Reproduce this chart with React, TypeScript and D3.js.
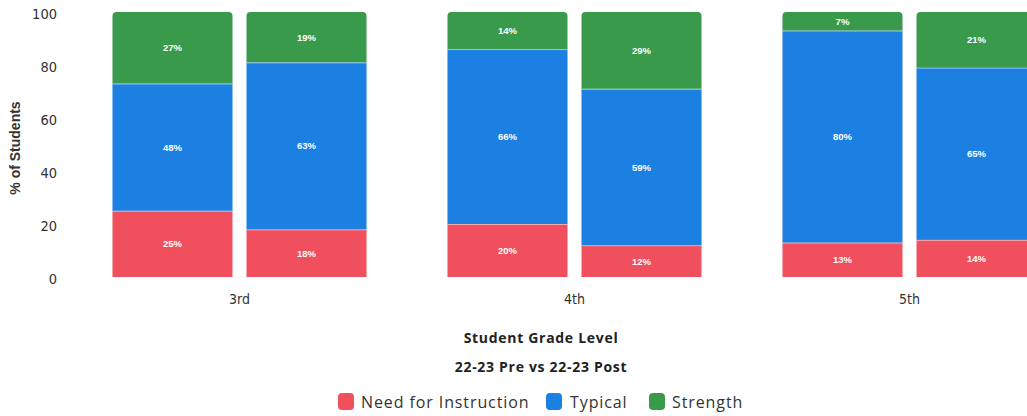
import React from "react";
import * as d3 from "d3";

const grades = ["3rd", "4th", "5th"];
const periods = ["22-23 Pre", "22-23 Post"];
const seriesNames = ["Need for Instruction", "Typical", "Strength"];
// values per grade, per period: [Need, Typical, Strength]
const needForInstruction = [25, 18, 20, 12, 13, 14];
const typical = [48, 63, 66, 59, 80, 65];
const strength = [27, 19, 14, 29, 7, 21];
const yTicks = [0, 20, 40, 60, 80, 100];
const colors = ["#f0505e", "#1b80e2", "#3a9a4c"];

const W = 1027;
const H = 416;

export default function App() {
  const x0 = d3.scaleBand<string>().domain(grades).range([72, 1077]).padding(0);
  const x1 = d3
    .scaleBand<string>()
    .domain(periods)
    .range([0, x0.bandwidth()])
    .paddingInner(0.1045)
    .paddingOuter(0.302);
  const y = d3.scaleLinear().domain([0, 100]).range([277, 12]);

  const rows = grades.flatMap((g, gi) =>
    periods.map((p, pi) => {
      const i = gi * 2 + pi;
      return { grade: g, period: p, vals: [needForInstruction[i], typical[i], strength[i]] };
    })
  );

  const stack = d3.stack<any>().keys(["0", "1", "2"]).value((d, k) => d.vals[+k]);
  const layers = stack(rows);

  const r = 4;
  const roundedTop = (x: number, yTop: number, w: number, h: number) =>
    `M${x},${yTop + h}V${yTop + r}Q${x},${yTop} ${x + r},${yTop}H${x + w - r}Q${x + w},${yTop} ${x + w},${yTop + r}V${yTop + h}Z`;

  const legendItems = [
    { x: 338, tx: 361 },
    { x: 546, tx: 570 },
    { x: 649, tx: 672 },
  ];

  return (
    <div style={{ position: "fixed", left: 0, top: 0 }}>
      <svg width={W} height={H} style={{ display: "block", background: "#fff" }}>
        {/* y ticks */}
        {yTicks.map((t) => (
          <text
            key={t}
            x={57}
            y={y(t) + 3}
            textAnchor="end"
            dominantBaseline="middle"
            fontFamily="'DejaVu Sans Condensed', 'DejaVu Sans', sans-serif"
            fontSize={14.5}
            fill="#333"
          >
            {t}
          </text>
        ))}
        <text
          transform={`translate(20,${148}) rotate(-90)`}
          textAnchor="middle"
          fontFamily="'Liberation Sans', Arial, sans-serif"
          fontWeight="bold"
          fontSize={14}
          fill="#333"
        >
          % of Students
        </text>

        {/* bars */}
        {layers.map((layer, li) =>
          layer.map((seg, si) => {
            const row = rows[si];
            const bx = (x0(row.grade) ?? 0) + (x1(row.period) ?? 0);
            const bw = x1.bandwidth();
            const yTop = y(seg[1]);
            const h = y(seg[0]) - y(seg[1]);
            const isTop = li === 2;
            return (
              <g key={`${li}-${si}`}>
                {isTop ? (
                  <path d={roundedTop(bx, yTop, bw, h)} fill={colors[li]} />
                ) : (
                  <rect x={bx} y={yTop} width={bw} height={h} fill={colors[li]} />
                )}
                {li < 2 && (
                  <line x1={bx} x2={bx + bw} y1={yTop + 0.5} y2={yTop + 0.5} stroke="#fff" strokeOpacity={0.5} strokeWidth={1} />
                )}
                <text
                  x={bx + bw / 2}
                  y={yTop + h / 2}
                  textAnchor="middle"
                  dominantBaseline="central"
                  fontFamily="'Liberation Sans', Arial, sans-serif"
                  fontWeight="bold"
                  fontSize={9.5}
                  fill="#fff"
                >
                  {row.vals[li]}%
                </text>
              </g>
            );
          })
        )}

        {/* x labels */}
        {grades.map((g) => (
          <text
            key={g}
            x={(x0(g) ?? 0) + x0.bandwidth() / 2}
            y={304}
            textAnchor="middle"
            fontFamily="'DejaVu Sans Condensed', 'DejaVu Sans', sans-serif"
            fontSize={14}
            fill="#333"
          >
            {g}
          </text>
        ))}

        <text x={541} y={343} textAnchor="middle" fontFamily="'Open Sans', sans-serif" fontWeight="bold" fontSize={14} letterSpacing={0.7} fill="#222">
          Student Grade Level
        </text>
        <text x={541} y={372} textAnchor="middle" fontFamily="'Open Sans', sans-serif" fontWeight="bold" fontSize={14} letterSpacing={0.7} fill="#222">
          {periods[0]} vs {periods[1]}
        </text>

        {/* legend */}
        {seriesNames.map((s, i) => (
          <g key={s}>
            <rect x={legendItems[i].x} y={393} width={16} height={17} rx={4} fill={colors[i]} />
            <text
              x={legendItems[i].tx}
              y={408}
              fontFamily="'Open Sans', sans-serif"
              fontSize={16}
              letterSpacing={0.9}
              fill="#333"
            >
              {s}
            </text>
          </g>
        ))}
      </svg>
    </div>
  );
}
